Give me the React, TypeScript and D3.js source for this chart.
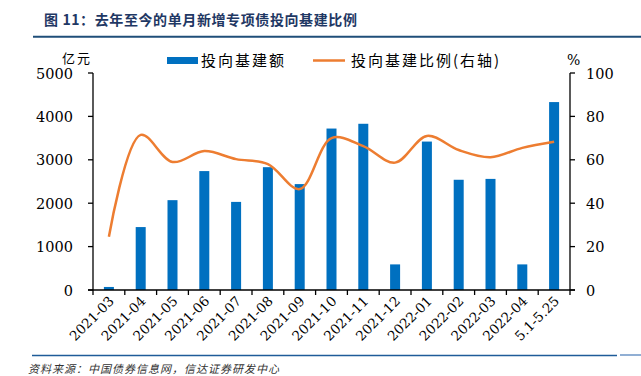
import React from "react";
import * as d3 from "d3";

const categories = ["2021-03","2021-04","2021-05","2021-06","2021-07","2021-08","2021-09","2021-10","2021-11","2021-12","2022-01","2022-02","2022-03","2022-04","5.1-5.25"];
const amount = [70,1450,2070,2740,2030,2830,2440,3720,3830,590,3420,2540,2560,590,4330];
const ratio = [24.5,71.5,59,64,60.3,58,46.5,70,66.3,58.7,71,64.5,61.2,65.5,68.3];
const leftTicks = [0,1000,2000,3000,4000,5000];
const rightTicks = [0,20,40,60,80,100];

const W = 641, H = 376;
const M = { left: 93, right: 570, top: 73, bottom: 290 };
const serif = "'DejaVu Serif', 'Liberation Serif', serif";
const cjk = "'Noto Sans CJK SC', 'Noto Sans', sans-serif";
const BLUE = "#0070C0";
const ORANGE = "#ED7D31";

export default function App() {
  const x = d3.scaleBand<string>().domain(categories).range([M.left, M.right]).paddingInner(0).paddingOuter(0);
  const yL = d3.scaleLinear().domain([0, 5000]).range([M.bottom, M.top]);
  const yR = d3.scaleLinear().domain([0, 100]).range([M.bottom, M.top]);
  const bw = 10;
  const cx = (c: string) => (x(c) as number) + x.bandwidth() / 2;
  const line = d3.line<number>()
    .x((_, i) => cx(categories[i]))
    .y((d) => yR(d))
    .curve(d3.curveCatmullRom.alpha(0.5));
  const boundaries = d3.range(categories.length + 1).map((i) => M.left + i * x.bandwidth());
  const serifStyle = { fontFamily: serif };

  return (
    <svg width={W} height={H} style={{ position: "absolute", left: 0, top: 0, background: "#fff" }}>
      <text x={44} y={25} style={{ fontFamily: cjk }} fontWeight="bold" fontSize={14} fill="#1F3864" letterSpacing={0.6}>图 11：去年至今的单月新增专项债投向基建比例</text>
      <line x1={33} x2={641} y1={36.7} y2={36.7} stroke="#1F4E79" strokeWidth={2} />

      {/* legend */}
      <rect x={167} y={57} width={31} height={7} fill={BLUE} />
      <text x={201} y={66} style={{ fontFamily: cjk }} fontSize={15} letterSpacing={2} fill="#000">投向基建额</text>
      <line x1={313} x2={345} y1={60.5} y2={60.5} stroke={ORANGE} strokeWidth={2.5} />
      <text x={351} y={66} style={{ fontFamily: cjk }} fontSize={15} letterSpacing={2} fill="#000">投向基建比例(右轴)</text>

      {/* units */}
      <text x={62} y={63} style={{ fontFamily: cjk }} fontSize={13} letterSpacing={2} fill="#000">亿元</text>
      <text x={567} y={65} style={serifStyle} fontSize={14} fill="#000">%</text>

      {/* bars */}
      {amount.map((v, i) => (
        <rect key={i} x={cx(categories[i]) - bw / 2} y={yL(v)} width={bw} height={M.bottom - yL(v)} fill={BLUE} />
      ))}

      {/* line */}
      <path d={line(ratio) || ""} fill="none" stroke={ORANGE} strokeWidth={2.5} />

      {/* left axis */}
      <line x1={M.left} x2={M.left} y1={M.top} y2={M.bottom} stroke="#000" strokeWidth={1.3} />
      {leftTicks.map((t) => (
        <g key={t}>
          <line x1={M.left - 5} x2={M.left} y1={yL(t)} y2={yL(t)} stroke="#000" strokeWidth={1.3} />
          <text x={M.left - 20} y={yL(t) + 5.5} textAnchor="end" style={serifStyle} fontSize={14.5} fill="#000">{t}</text>
        </g>
      ))}

      {/* right axis */}
      <line x1={M.right} x2={M.right} y1={M.top} y2={M.bottom} stroke="#000" strokeWidth={1.3} />
      {rightTicks.map((t) => (
        <g key={t}>
          <line x1={M.right} x2={M.right + 5} y1={yR(t)} y2={yR(t)} stroke="#000" strokeWidth={1.3} />
          <text x={M.right + 16} y={yR(t) + 5.5} textAnchor="start" style={serifStyle} fontSize={14.5} fill="#000">{t}</text>
        </g>
      ))}

      {/* x axis */}
      <line x1={M.left - 5} x2={M.right + 5} y1={M.bottom} y2={M.bottom} stroke="#000" strokeWidth={1.3} />
      {boundaries.map((b, i) => (
        <line key={i} x1={b} x2={b} y1={M.bottom} y2={M.bottom + 5} stroke="#000" strokeWidth={1.3} />
      ))}
      {categories.map((c) => (
        <text key={c} transform={`translate(${cx(c) + 6},${M.bottom + 12}) rotate(-45)`} textAnchor="end" style={serifStyle} fontSize={13.5} fill="#000">{c}</text>
      ))}

      {/* footer */}
      <line x1={32} x2={617} y1={355.5} y2={355.5} stroke="#1F5C99" strokeWidth={1.5} />
      <line x1={620} x2={641} y1={355} y2={355} stroke="#6C95C6" strokeWidth={1.5} />
      <text x={28} y={373} style={{ fontFamily: cjk }} fontStyle="italic" fontSize={11} letterSpacing={1} fill="#333">资料来源：中国债券信息网，信达证券研发中心</text>
    </svg>
  );
}
